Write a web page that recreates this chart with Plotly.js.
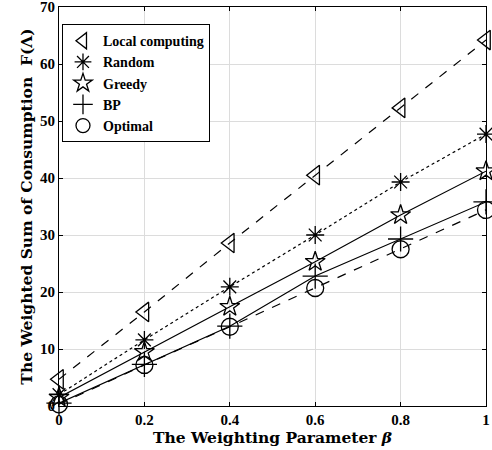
<!DOCTYPE html>
<html><head><meta charset="utf-8">
<script src="https://cdn.plot.ly/plotly-3.0.1.min.js"></script>
<style>body{margin:0;background:#fff}#chart{width:492px;height:450px}</style>
</head><body><div id="chart"></div>
<script>
const beta = [0, 0.2, 0.4, 0.6, 0.8, 1];
const seriesNames = ["Local computing", "Random", "Greedy", "BP", "Optimal"];
const localComputing = [4.7, 16.5, 28.6, 40.5, 52.3, 64.2];
const randomVals = [2.0, 11.6, 20.9, 30.0, 39.3, 47.7];
const greedyVals = [1.5, 9.5, 17.4, 25.3, 33.5, 41.2];
const bpVals = [0.5, 7.3, 14.0, 22.8, 29.3, 35.8];
const optimalVals = [0.3, 7.2, 13.9, 20.7, 27.5, 34.4];
const xTicks = [0, 0.2, 0.4, 0.6, 0.8, 1];
const xTickText = ["0", "0.2", "0.4", "0.6", "0.8", "1"];
const yTicks = [0, 10, 20, 30, 40, 50, 60, 70];

const values = [localComputing, randomVals, greedyVals, bpVals, optimalVals];
const dashes = ["dash", "dot", "solid", "solid", "dash"];
const symbols = ["triangle-left-open", "asterisk-open", "star-open", "cross-thin-open", "circle-open"];
const sizes = [17, 15, 15, 18, 17];

const traces = values.map((v, i) => ({
  x: beta, y: v, name: seriesNames[i], type: "scatter", mode: "lines+markers",
  showlegend: false,
  line: {color: "#000", width: 1.2, dash: dashes[i]},
  marker: {symbol: symbols[i], size: sizes[i], color: "#000", line: {color: "#000", width: 1.3}},
  cliponaxis: false
}));
const legendTraces = seriesNames.map((n, i) => ({
  x: [null], y: [null], name: n, type: "scatter", mode: "markers",
  marker: {symbol: symbols[i], size: 14, color: "#000", line: {color: "#000", width: 1.3}}
}));

const tickFontFam = "Liberation Serif";
const titleFontFam = "DejaVu Serif";
const layout = {
  width: 492, height: 450,
  margin: {l: 59, r: 6, t: 7, b: 44},
  paper_bgcolor: "#fff", plot_bgcolor: "#fff",
  font: {family: tickFontFam, color: "#000"},
  showlegend: true,
  legend: {x: 0.007, y: 0.957, xanchor: "left", yanchor: "top",
    bgcolor: "#fff", bordercolor: "#000", borderwidth: 1,
    font: {family: tickFontFam, size: 14, weight: "bold", color: "#000"},
    tracegroupgap: 0, itemwidth: 30},
  xaxis: {range: [0, 1], tickvals: xTicks, ticktext: xTickText,
    showgrid: true, gridcolor: "#dcdcdc", gridwidth: 1,
    showline: true, linecolor: "#000", linewidth: 1, mirror: "ticks",
    ticks: "inside", ticklen: 4, tickcolor: "#000", zeroline: false,
    ticklabeloverflow: "allow",
    tickfont: {family: tickFontFam, size: 15, weight: "bold"},
    title: {text: "The Weighting Parameter <i>β</i>", standoff: 2,
      font: {family: titleFontFam, size: 15.5, weight: "bold"}}},
  yaxis: {range: [0, 70], tickvals: yTicks,
    showgrid: true, gridcolor: "#dcdcdc", gridwidth: 1,
    showline: true, linecolor: "#000", linewidth: 1, mirror: "ticks",
    ticks: "inside", ticklen: 4, tickcolor: "#000", zeroline: false,
    ticklabeloverflow: "allow",
    tickfont: {family: tickFontFam, size: 15, weight: "bold"},
    title: {text: "The Weighted Sum of Consumption  F(Λ)", standoff: 3,
      font: {family: titleFontFam, size: 15.5, weight: "bold"}}}
};
Plotly.newPlot("chart", traces.concat(legendTraces), layout, {displayModeBar: false, staticPlot: true});
</script></body></html>
